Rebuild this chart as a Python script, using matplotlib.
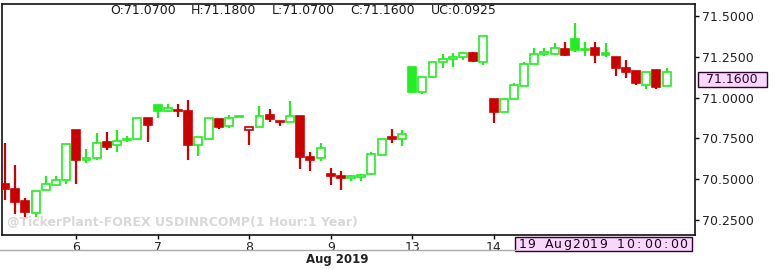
import matplotlib.pyplot as plt
from matplotlib.patches import Rectangle

# hourly OHLC, USDINR, 5 - 19 Aug 2019
opens = [70.469, 70.438, 70.364, 70.292, 70.432, 70.467, 70.493, 70.800, 70.617, 70.627,
         70.729, 70.708, 70.739, 70.749, 70.872, 70.954, 70.919, 70.919, 70.919, 70.708,
         70.749, 70.866, 70.825, 70.883, 70.800, 70.817, 70.892, 70.857, 70.851, 70.888,
         70.633, 70.627, 70.534, 70.518, 70.506, 70.510, 70.534, 70.647, 70.757, 70.749,
         71.186, 71.036, 71.128, 71.220, 71.234, 71.247, 71.271, 71.216, 70.989, 70.913,
         70.989, 71.071, 71.206, 71.267, 71.267, 71.298, 71.357, 71.290, 71.302, 71.271,
         71.251, 71.179, 71.165, 71.077, 71.169, 71.070]
highs = [70.719, 70.585, 70.387, 70.430, 70.518, 70.518, 70.713, 70.800, 70.682, 70.780,
         70.790, 70.800, 70.763, 70.875, 70.872, 70.954, 70.958, 70.958, 70.985, 70.759,
         70.876, 70.870, 70.892, 70.887, 70.817, 70.948, 70.928, 70.857, 70.978, 70.888,
         70.667, 70.719, 70.569, 70.549, 70.523, 70.534, 70.667, 70.749, 70.806, 70.804,
         71.186, 71.124, 71.220, 71.265, 71.275, 71.281, 71.278, 71.380, 70.989, 70.989,
         71.091, 71.220, 71.302, 71.306, 71.333, 71.343, 71.459, 71.343, 71.339, 71.333,
         71.251, 71.230, 71.165, 71.160, 71.169, 71.180]
lows = [70.370, 70.284, 70.268, 70.268, 70.432, 70.463, 70.469, 70.473, 70.600, 70.620,
        70.678, 70.667, 70.727, 70.749, 70.728, 70.876, 70.913, 70.882, 70.616, 70.643,
        70.739, 70.805, 70.815, 70.883, 70.708, 70.817, 70.848, 70.825, 70.851, 70.565,
        70.549, 70.610, 70.467, 70.436, 70.487, 70.487, 70.524, 70.647, 70.722, 70.704,
        71.026, 71.020, 71.118, 71.180, 71.190, 71.230, 71.216, 71.200, 70.845, 70.913,
        70.989, 71.071, 71.206, 71.255, 71.260, 71.255, 71.281, 71.255, 71.214, 71.250,
        71.134, 71.118, 71.077, 71.052, 71.050, 71.070]
closes = [70.440, 70.362, 70.299, 70.426, 70.473, 70.493, 70.713, 70.620, 70.627, 70.719,
          70.698, 70.733, 70.749, 70.872, 70.831, 70.919, 70.934, 70.921, 70.708, 70.759,
          70.876, 70.817, 70.876, 70.887, 70.817, 70.888, 70.866, 70.848, 70.886, 70.636,
          70.620, 70.694, 70.522, 70.504, 70.518, 70.526, 70.653, 70.749, 70.745, 70.776,
          71.036, 71.124, 71.220, 71.236, 71.247, 71.271, 71.226, 71.380, 70.913, 70.989,
          71.077, 71.206, 71.265, 71.281, 71.306, 71.261, 71.292, 71.298, 71.261, 71.261,
          71.179, 71.158, 71.087, 71.158, 71.063, 71.160]

day_idx = [7, 15, 24, 32, 40, 48]
day_labels = ['6', '7', '8', '9', '13', '14']
yticks = [70.25, 70.5, 70.75, 71.0, 71.25, 71.5]
last_time = '19 Aug2019 10:00:00'

red = '#cc0000'
green = '#22ee22'
W, H = 780, 269

fig = plt.figure(figsize=(7.8, 2.69), dpi=100)
ax = fig.add_axes([0.0026, 0.125, 0.8885, 0.86])

for i in range(len(opens)):
    o, h, l, c = opens[i], highs[i], lows[i], closes[i]
    prev = closes[i - 1] if i > 0 else o + 1
    col = green if c >= prev else red
    filled = c < o
    ax.vlines(i, l, h, color=col, lw=1.6, zorder=2)
    bot = min(o, c)
    hgt = max(abs(c - o), 0.005)
    ax.bar(i, hgt, bottom=bot, width=0.78,
           facecolor=col if filled else 'white',
           edgecolor=col, linewidth=1.2, zorder=3)

ax.set_xlim(-0.3, 67.8)
ax.set_ylim(70.155, 71.574)

ax.yaxis.tick_right()
ax.set_yticks(yticks)
ax.set_yticklabels(['%.4f' % v for v in yticks])
ax.tick_params(axis='y', length=3, width=1, pad=2, labelsize=9, labelcolor='#222222')
ax.set_xticks(day_idx)
ax.set_xticklabels(day_labels)
ax.tick_params(axis='x', length=3, width=1, pad=1, labelsize=9, labelcolor='#222222')
for s in ax.spines.values():
    s.set_color('#111111')
    s.set_linewidth(1.2)

# header
hdr = [('O:71.0700', 110), ('H:71.1800', 191), ('L:71.0700', 272),
       ('C:71.1600', 350), ('UC:0.0925', 431)]
for txt, px in hdr:
    fig.text(px / W, 1 - 10 / H, txt, fontsize=9, color='#1a1a1a',
             va='center', ha='left')

# watermark
fig.text(7 / W, 1 - 222 / H, '@TickerPlant-FOREX USDINRCOMP(1 Hour:1 Year)',
         fontsize=9, color='#d8d8d8', va='center', ha='left', fontweight='bold')

# last price box
fig.add_artist(Rectangle((698 / W, 1 - 87 / H), 69 / W, 15 / H, transform=fig.transFigure,
                         facecolor='#f8d8f8', edgecolor='#300030', lw=1))
fig.text(732 / W, 1 - 79.5 / H, '71.1600', fontsize=9, color='#300030',
         va='center', ha='center')

# date box (letter-spaced like the terminal font) and axis footer
fig.add_artist(Rectangle((515 / W, 1 - 251 / H), 177 / W, 14 / H, transform=fig.transFigure,
                         facecolor='#f8d8f8', edgecolor='#300030', lw=1))
pitch = 170 / len(last_time)
for k, ch in enumerate(last_time):
    fig.text((518 + pitch * (k + 0.5)) / W, 1 - 244 / H, ch, fontsize=9,
             color='#200020', va='center', ha='center')
fig.add_artist(plt.Line2D([0, 515 / W], [1 - 250 / H] * 2, color='#aaaaaa', lw=1))
fig.text(337 / W, 1 - 259 / H, 'Aug 2019', fontsize=8.5, fontweight='bold',
         color='#222222', ha='center', va='center')

fig.savefig('out.png', dpi=100)
